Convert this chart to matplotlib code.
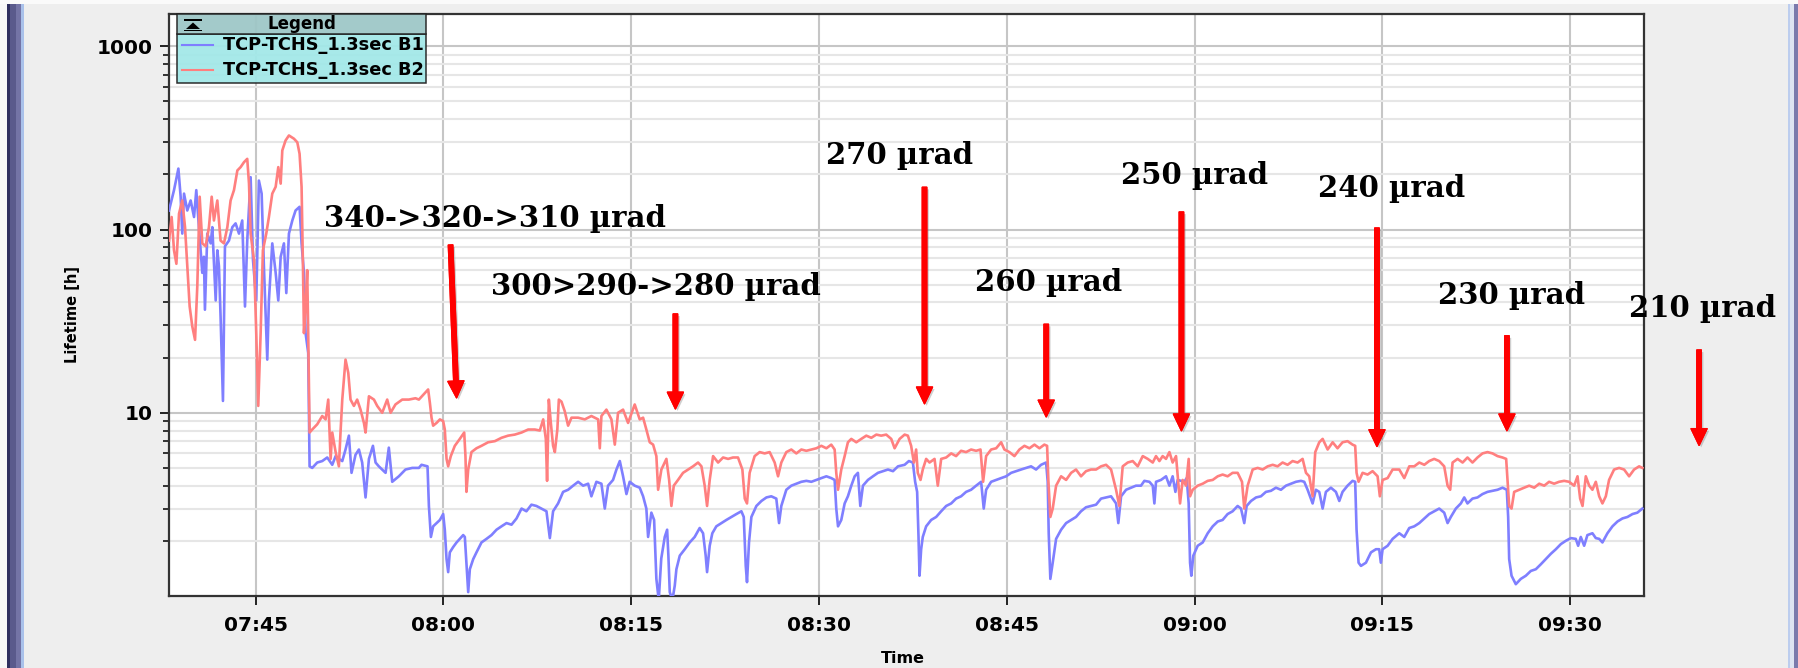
"""Beam lifetime vs. time for the TCP-TCHS collimator angle scan, B1 and B2."""

import matplotlib
matplotlib.use("Agg")
import matplotlib.pyplot as plt
import matplotlib.patheffects as pe
from matplotlib.lines import Line2D
from matplotlib.patches import Rectangle, Polygon
from matplotlib.ticker import FixedLocator, FuncFormatter, LogLocator, NullFormatter

W, H = 1798, 668

BLUE = "#7f7fff"
RED = "#ff7f7f"
ARROW_RED = "#ff0000"
PANEL = "#eeeeee"

series_names = ["TCP-TCHS_1.3sec B1", "TCP-TCHS_1.3sec B2"]

# time in minutes after midnight, lifetime in hours
b1_time = [
    458.08, 458.48, 458.83, 459.01, 459.14, 459.28, 459.54, 459.81, 460.08, 460.26,
    460.47, 460.74, 460.87, 460.95, 461.14, 461.41, 461.54, 461.81, 461.94, 462.07,
    462.20, 462.39, 462.55, 462.87, 463.14, 463.40, 463.67, 463.93, 464.15, 464.33,
    464.60, 464.79, 465.05, 465.26, 465.48, 465.66, 465.93, 466.06, 466.33, 466.60,
    466.81, 467.00, 467.26, 467.45, 467.66, 467.93, 468.19, 468.51, 468.67, 468.86,
    468.99, 469.20, 469.31, 469.52, 469.92, 470.32, 470.72, 471.12, 471.39, 471.65,
    471.92, 472.18, 472.45, 472.66, 472.98, 473.25, 473.51, 473.78, 474.05, 474.37,
    474.58, 474.84, 475.11, 475.38, 475.64, 475.91, 476.44, 476.97, 477.51, 478.04,
    478.25, 478.73, 478.84, 479.00, 479.18, 479.45, 479.72, 479.98, 480.11, 480.25,
    480.38, 480.51, 480.78, 481.05, 481.31, 481.58, 481.71, 481.84, 481.98, 482.11,
    482.38, 482.64, 483.04, 483.44, 483.84, 484.24, 484.64, 485.04, 485.44, 485.84,
    486.24, 486.63, 487.03, 487.43, 487.83, 488.23, 488.50, 488.76, 489.16, 489.56,
    489.96, 490.36, 490.76, 491.16, 491.56, 491.82, 492.22, 492.62, 492.89, 493.15,
    493.55, 493.82, 494.09, 494.35, 494.62, 494.88, 495.28, 495.68, 495.95, 496.21,
    496.35, 496.61, 496.83, 497.01, 497.20, 497.40, 497.68, 497.87, 497.97, 498.08,
    498.29, 498.48, 498.61, 498.88, 499.28, 499.67, 500.07, 500.47, 500.74, 500.95,
    501.06, 501.27, 501.48, 501.80, 502.20, 502.60, 503.00, 503.40, 503.80, 503.99,
    504.15, 504.25, 504.41, 504.60, 505.00, 505.40, 505.80, 506.19, 506.59, 506.81,
    506.99, 507.39, 507.79, 508.19, 508.59, 508.99, 509.39, 509.79, 510.19, 510.59,
    510.98, 511.25, 511.38, 511.52, 511.78, 512.05, 512.31, 512.58, 512.85, 513.11,
    513.30, 513.51, 513.91, 514.31, 514.71, 515.11, 515.51, 515.91, 516.31, 516.84,
    517.18, 517.50, 517.68, 517.84, 517.95, 518.03, 518.16, 518.29, 518.56, 518.96,
    519.36, 519.76, 520.16, 520.56, 520.95, 521.35, 521.75, 522.15, 522.55, 522.95,
    523.16, 523.35, 523.75, 524.15, 524.55, 524.95, 525.35, 525.74, 526.14, 526.54,
    526.94, 527.34, 527.74, 528.14, 528.27, 528.35, 528.48, 528.67, 528.94, 529.34,
    529.74, 530.14, 530.53, 530.93, 531.33, 531.73, 532.13, 532.53, 532.93, 533.33,
    533.73, 533.91, 534.13, 534.53, 534.92, 535.32, 535.72, 535.99, 536.39, 536.66,
    536.79, 536.92, 537.32, 537.72, 537.99, 538.25, 538.47, 538.65, 538.92, 539.18,
    539.37, 539.53, 539.64, 539.74, 539.90, 540.25, 540.65, 541.05, 541.45, 541.85,
    542.24, 542.64, 543.04, 543.44, 543.71, 543.97, 544.16, 544.51, 544.91, 545.30,
    545.70, 546.10, 546.50, 546.90, 547.30, 547.70, 548.10, 548.50, 548.76, 549.03,
    549.43, 549.69, 549.96, 550.23, 550.49, 550.89, 551.29, 551.56, 551.82, 552.22,
    552.62, 552.83, 552.94, 553.10, 553.29, 553.69, 554.09, 554.49, 554.75, 554.88,
    555.02, 555.42, 555.82, 556.35, 556.75, 557.15, 557.55, 557.95, 558.35, 558.74,
    559.14, 559.54, 559.94, 560.21, 560.47, 560.87, 561.27, 561.54, 561.80, 562.20,
    562.60, 563.00, 563.40, 563.80, 564.20, 564.60, 564.94, 565.05, 565.13, 565.32,
    565.66, 566.06, 566.46, 566.86, 567.26, 567.66, 568.06, 568.46, 568.86, 569.26,
    569.65, 570.05, 570.45, 570.64, 570.85, 571.12, 571.38, 571.78, 572.05, 572.32,
    572.58, 572.98, 573.38, 573.78, 574.18, 574.58, 574.98, 575.37, 575.77,
]
b1_life = [
    127, 164, 215, 151, 95, 157, 127, 144, 117, 164,
    103, 58, 71, 36.5, 95, 84, 103, 41, 77, 63,
    33.5, 11.6, 81, 87, 103, 108, 95, 112, 38, 87,
    193, 68, 41, 185, 157, 63, 19.5, 41, 84, 58,
    41, 71, 84, 45, 95, 112, 127, 133, 84, 58,
    27.2, 21.2, 5.1, 5.0, 5.35, 5.45, 5.7, 5.2, 5.8, 5.6,
    5.45, 6.3, 7.5, 4.7, 5.9, 6.3, 5.35, 3.45, 5.6, 6.6,
    5.35, 5.1, 4.9, 4.7, 6.45, 4.2, 4.5, 4.9, 5.0, 5.0,
    5.2, 5.1, 3.1, 2.1, 2.4, 2.5, 2.6, 2.8, 2.3, 1.59,
    1.35, 1.73, 1.85, 1.96, 2.05, 2.15, 2.1, 1.52, 1.05, 1.40,
    1.59, 1.73, 1.96, 2.05, 2.15, 2.3, 2.4, 2.5, 2.45, 2.65,
    3.0, 2.9, 3.15, 3.1, 3.0, 2.9, 2.07, 2.9, 3.2, 3.7,
    3.8, 4.0, 4.2, 4.0, 4.1, 3.5, 4.2, 4.1, 3.0, 4.0,
    4.3, 4.9, 5.45, 4.5, 3.6, 4.2, 4.0, 3.9, 3.5, 3.0,
    2.1, 2.85, 2.6, 1.24, 0.95, 1.6, 2.1, 2.3, 1.66, 1.05,
    0.95, 1.14, 1.40, 1.66, 1.8, 1.96, 2.1, 2.35, 2.2, 1.66,
    1.35, 1.88, 2.2, 2.4, 2.5, 2.6, 2.7, 2.8, 2.9, 2.7,
    1.46, 1.19, 1.96, 2.7, 3.1, 3.3, 3.45, 3.5, 3.4, 2.5,
    3.1, 3.8, 4.0, 4.1, 4.2, 4.25, 4.2, 4.3, 4.4, 4.5,
    4.4, 4.3, 3.0, 2.4, 2.6, 3.2, 3.5, 4.0, 4.5, 4.7,
    3.1, 4.0, 4.3, 4.5, 4.7, 4.8, 4.9, 4.8, 5.1, 5.2,
    5.45, 5.35, 4.2, 3.7, 2.1, 1.29, 1.8, 2.1, 2.4, 2.6,
    2.7, 2.9, 3.1, 3.2, 3.4, 3.5, 3.7, 3.8, 4.0, 4.2,
    3.0, 3.8, 4.2, 4.3, 4.4, 4.5, 4.7, 4.8, 4.9, 5.0,
    5.1, 4.9, 5.2, 5.35, 4.2, 2.2, 1.24, 1.52, 2.05, 2.3,
    2.5, 2.6, 2.7, 2.9, 3.05, 3.1, 3.15, 3.4, 3.45, 3.5,
    3.2, 2.5, 3.5, 3.8, 3.9, 4.0, 4.0, 4.25, 4.2, 4.0,
    3.2, 4.2, 4.3, 4.5, 4.0, 4.5, 3.7, 4.3, 4.25, 4.2,
    4.4, 3.2, 1.52, 1.29, 1.66, 1.88, 1.96, 2.2, 2.4, 2.55,
    2.6, 2.8, 2.9, 3.1, 3.0, 2.5, 3.1, 3.3, 3.45, 3.5,
    3.7, 3.75, 3.9, 3.8, 4.0, 4.1, 4.2, 4.25, 4.2, 3.8,
    3.2, 3.8, 3.7, 3.0, 3.7, 3.9, 3.7, 3.3, 3.7, 4.0,
    4.25, 4.2, 2.3, 1.52, 1.46, 1.52, 1.73, 1.8, 1.8, 1.52,
    1.8, 1.88, 2.05, 2.2, 2.1, 2.35, 2.4, 2.5, 2.65, 2.8,
    2.9, 3.0, 2.85, 2.5, 2.7, 3.0, 3.2, 3.45, 3.2, 3.4,
    3.45, 3.6, 3.7, 3.75, 3.8, 3.9, 3.8, 2.7, 1.59, 1.29,
    1.16, 1.24, 1.29, 1.37, 1.40, 1.49, 1.59, 1.7, 1.8, 1.92,
    2.0, 2.07, 2.05, 1.88, 2.1, 1.88, 2.15, 2.2, 2.07, 2.05,
    1.96, 2.2, 2.4, 2.55, 2.65, 2.7, 2.8, 2.85, 3.0,
]

b2_time = [
    458.08, 458.29, 458.48, 458.67, 458.88, 459.14, 459.36, 459.54, 459.73, 459.94,
    460.16, 460.34, 460.53, 460.74, 461.01, 461.27, 461.49, 461.67, 461.94, 462.20,
    462.47, 462.74, 463.00, 463.27, 463.54, 463.80, 464.07, 464.33, 464.47, 464.60,
    464.87, 465.05, 465.21, 465.40, 465.58, 465.85, 466.06, 466.33, 466.60, 466.81,
    467.00, 467.13, 467.39, 467.66, 468.06, 468.33, 468.51, 468.67, 468.78, 468.86,
    468.99, 469.12, 469.20, 469.31, 469.52, 469.92, 470.32, 470.59, 470.80, 470.99,
    471.12, 471.39, 471.65, 471.78, 471.92, 472.05, 472.18, 472.40, 472.58, 472.85,
    473.11, 473.38, 473.65, 473.78, 474.05, 474.45, 474.71, 475.11, 475.51, 475.78,
    476.17, 476.71, 477.24, 477.77, 478.04, 478.52, 478.78, 478.92, 479.05, 479.18,
    479.45, 479.72, 479.98, 480.11, 480.25, 480.38, 480.59, 480.91, 481.31, 481.66,
    481.76, 481.84, 481.98, 482.24, 482.64, 483.04, 483.57, 484.11, 484.64, 485.17,
    485.70, 486.24, 486.77, 487.30, 487.70, 487.97, 488.18, 488.28, 488.42, 488.58,
    488.76, 488.90, 489.10, 489.22, 489.43, 489.69, 489.96, 490.23, 490.76, 491.29,
    491.82, 492.36, 492.49, 492.62, 493.02, 493.42, 493.69, 493.95, 494.35, 494.75,
    495.28, 495.68, 495.95, 496.21, 496.48, 496.75, 497.01, 497.15, 497.41, 497.81,
    498.03, 498.21, 498.40, 498.74, 499.14, 499.54, 499.94, 500.34, 500.61, 500.87,
    501.06, 501.27, 501.54, 501.94, 502.34, 502.74, 503.13, 503.53, 503.88, 504.07,
    504.25, 504.46, 504.86, 505.26, 505.66, 506.06, 506.46, 506.73, 506.99, 507.39,
    507.79, 508.19, 508.59, 508.99, 509.39, 509.79, 510.19, 510.59, 510.98, 511.25,
    511.38, 511.52, 511.78, 512.05, 512.31, 512.58, 512.98, 513.38, 513.78, 514.18,
    514.58, 514.97, 515.37, 515.77, 516.04, 516.44, 516.84, 517.10, 517.36, 517.58,
    517.76, 517.89, 518.11, 518.29, 518.56, 518.83, 519.23, 519.49, 519.76, 520.16,
    520.56, 520.95, 521.35, 521.75, 522.15, 522.55, 522.90, 523.11, 523.35, 523.75,
    524.15, 524.55, 524.81, 525.21, 525.61, 526.01, 526.41, 526.81, 527.21, 527.61,
    528.00, 528.22, 528.32, 528.48, 528.67, 528.94, 529.34, 529.74, 530.14, 530.53,
    530.93, 531.33, 531.73, 532.13, 532.53, 532.93, 533.33, 533.73, 533.99, 534.26,
    534.66, 535.06, 535.46, 535.86, 536.26, 536.66, 536.92, 537.19, 537.45, 537.72,
    537.99, 538.25, 538.52, 538.84, 539.05, 539.32, 539.53, 539.64, 539.85, 540.25,
    540.65, 541.05, 541.45, 541.85, 542.24, 542.64, 543.04, 543.44, 543.79, 543.97,
    544.24, 544.64, 545.04, 545.44, 545.84, 546.24, 546.63, 547.03, 547.43, 547.83,
    548.23, 548.63, 548.90, 549.16, 549.43, 549.64, 549.96, 550.23, 550.63, 551.03,
    551.42, 551.82, 552.22, 552.62, 552.83, 552.94, 553.10, 553.42, 553.82, 554.22,
    554.62, 554.80, 555.02, 555.42, 555.82, 556.35, 556.75, 557.15, 557.55, 557.95,
    558.35, 558.74, 559.14, 559.54, 559.94, 560.21, 560.42, 560.61, 561.01, 561.41,
    561.80, 562.20, 562.60, 563.00, 563.40, 563.80, 564.20, 564.60, 564.89, 565.00,
    565.13, 565.32, 565.53, 565.93, 566.33, 566.73, 567.13, 567.53, 567.93, 568.32,
    568.72, 569.12, 569.52, 569.92, 570.32, 570.59, 570.80, 570.99, 571.25, 571.52,
    571.78, 572.05, 572.32, 572.58, 572.85, 573.11, 573.51, 573.91, 574.31, 574.71,
    575.11, 575.51, 575.77,
]
b2_life = [
    87, 117, 77, 65, 122, 144, 103, 63, 38, 29.6,
    25, 49, 151, 84, 81, 103, 151, 112, 144, 87,
    84, 103, 144, 164, 210, 219, 233, 243, 178, 95,
    68, 27.2, 10.9, 27.2, 77, 95, 117, 157, 171, 219,
    178, 270, 306, 326, 313, 299, 259, 171, 63, 27.2,
    38, 60, 27.2, 7.8, 8.1, 8.65, 9.6, 9.2, 11.8, 5.6,
    7.8, 6.1, 5.1, 7.8, 11.8, 15.2, 19.5, 16.5, 11.8, 10.9,
    11.8, 10.4, 8.8, 7.8, 12.3, 11.8, 10.9, 10.0, 11.8, 10.0,
    11.1, 11.8, 11.8, 12.0, 11.8, 12.8, 13.4, 11.3, 9.4, 8.5,
    8.8, 9.2, 9.0, 8.1, 5.6, 5.1, 5.8, 6.6, 7.2, 7.8,
    5.8, 3.7, 4.9, 6.1, 6.4, 6.6, 6.9, 7.0, 7.3, 7.5,
    7.6, 7.8, 8.1, 8.1, 8.0, 9.2, 7.2, 4.25, 11.8, 8.8,
    6.6, 6.1, 8.1, 11.8, 11.5, 10.2, 8.5, 9.4, 9.4, 9.2,
    9.6, 9.2, 6.4, 9.6, 10.4, 9.2, 6.7, 10.0, 10.4, 8.8,
    11.1, 9.2, 9.4, 8.1, 6.9, 6.7, 5.8, 3.8, 4.9, 5.6,
    4.3, 3.1, 4.0, 4.3, 4.7, 4.9, 5.1, 5.35, 5.1, 4.0,
    3.1, 4.3, 5.8, 5.35, 5.7, 5.6, 5.7, 5.7, 4.9, 3.4,
    3.2, 4.7, 5.8, 6.1, 6.0, 6.1, 5.35, 4.5, 5.35, 6.1,
    6.3, 6.0, 6.3, 6.2, 6.3, 6.4, 6.6, 6.4, 6.7, 6.3,
    4.7, 3.8, 4.9, 5.8, 6.9, 7.2, 6.9, 7.2, 7.5, 7.3,
    7.6, 7.5, 7.6, 7.2, 6.4, 7.2, 7.6, 7.5, 6.6, 5.35,
    6.3, 4.7, 4.3, 4.9, 5.6, 5.35, 5.6, 4.0, 5.6, 5.7,
    6.0, 5.8, 6.2, 6.1, 6.3, 6.2, 6.3, 4.2, 5.8, 6.3,
    6.4, 6.9, 6.3, 6.1, 5.8, 6.3, 6.6, 6.4, 6.7, 6.4,
    6.7, 6.6, 4.3, 2.7, 3.0, 4.0, 4.5, 4.3, 4.7, 4.9,
    4.5, 4.8, 4.9, 4.9, 5.1, 5.2, 4.9, 3.8, 3.1, 5.1,
    5.35, 5.45, 5.1, 5.8, 5.6, 5.35, 5.8, 5.45, 5.8, 5.6,
    6.1, 5.35, 5.8, 3.2, 4.3, 4.0, 5.6, 3.5, 3.8, 4.0,
    4.1, 4.25, 4.3, 4.5, 4.6, 4.5, 4.7, 4.7, 4.2, 3.0,
    4.0, 4.9, 5.0, 4.9, 5.1, 5.2, 5.1, 5.35, 5.2, 5.45,
    5.35, 5.6, 4.7, 4.5, 3.5, 6.1, 6.9, 7.2, 6.3, 6.9,
    6.4, 6.9, 7.0, 6.7, 6.6, 4.7, 4.2, 4.7, 4.6, 4.8,
    4.5, 3.5, 4.3, 4.4, 4.9, 4.9, 4.4, 5.1, 5.1, 5.35,
    5.2, 5.45, 5.6, 5.45, 5.1, 4.0, 3.8, 5.35, 5.6, 5.35,
    5.7, 5.35, 5.7, 6.0, 6.1, 6.0, 5.8, 5.7, 5.6, 4.3,
    3.1, 3.0, 3.7, 3.8, 3.9, 4.0, 3.9, 4.1, 4.0, 4.2,
    4.1, 4.2, 4.25, 4.2, 4.0, 4.5, 3.4, 3.1, 4.5, 4.0,
    3.8, 4.2, 3.5, 3.2, 3.5, 4.3, 4.9, 5.0, 4.9, 4.5,
    4.9, 5.1, 5.0,
]

# collimator angle steps: label anchor (left, baseline) and arrow tail/tip
step_labels = ["340->320->310 µrad", "300>290->280 µrad", "270 µrad", "260 µrad",
               "250 µrad", "240 µrad", "230 µrad", "210 µrad"]
label_time = [470.49, 483.84, 510.58, 522.49, 534.12, 549.88, 559.41, 574.71]
label_life = [103.6, 44.0, 226.6, 46.2, 177.0, 150.3, 39.3, 33.3]
arrow_tail_time = [480.57, 498.53, 518.43, 528.15, 538.95, 554.57, 564.95, 580.30]
arrow_tip_time = [481.05, 498.53, 518.43, 528.15, 538.95, 554.57, 564.95, 580.30]
arrow_tail_life = [82.3, 34.6, 170.0, 30.4, 124.6, 101.9, 26.3, 22.0]
arrow_tip_life = [12.07, 10.5, 11.2, 9.5, 7.98, 6.55, 7.98, 6.64]

time_ticks = [465, 480, 495, 510, 525, 540, 555, 570]


def fx(x):
    return x / W


def fy(y):
    return 1 - y / H


fig = plt.figure(figsize=(W / 100, H / 100), dpi=100, facecolor=PANEL)

# window frame strips
for x0, x1, col in [(0, 7, "#f7f7f7"), (7, 10, "#2f2f5f"), (10, 16, "#5a5a8c"),
                    (16, 21, "#7474a6"), (21, 24, "#a9c1ea"),
                    (1788, 1790, "#bccdee"), (1790, 1794, "#dde4f2"), (1794, 1798, "#7a7aac")]:
    fig.add_artist(Rectangle((fx(x0), 0), fx(x1 - x0), 1, transform=fig.transFigure,
                             facecolor=col, edgecolor="none", zorder=0))
fig.add_artist(Rectangle((0, fy(4)), 1, fy(0) - fy(4), transform=fig.transFigure,
                         facecolor="#fafafa", edgecolor="none", zorder=0))

ax = fig.add_axes([fx(169), fy(596), fx(1644 - 169), fy(14) - fy(596)])
ax.set_facecolor("white")

ax.plot(b1_time, b1_life, color=BLUE, lw=1.9, zorder=3)
ax.plot(b2_time, b2_life, color=RED, lw=1.9, zorder=3)

ax.set_yscale("log")
ax.set_xlim(458.08, 575.9)
ax.set_ylim(1, 1500)

ax.xaxis.set_major_locator(FixedLocator(time_ticks))
ax.xaxis.set_major_formatter(FuncFormatter(lambda m, _: f"{int(m // 60):02d}:{int(round(m % 60)):02d}"))
ax.yaxis.set_major_locator(FixedLocator([10, 100, 1000]))
ax.yaxis.set_major_formatter(FuncFormatter(lambda v, _: f"{v:.0f}"))
ax.yaxis.set_minor_locator(LogLocator(base=10, subs=range(2, 10)))
ax.yaxis.set_minor_formatter(NullFormatter())

ax.grid(True, which="major", axis="both", color="#c6c6c6", lw=1.5, zorder=0)
ax.grid(True, which="minor", axis="y", color="#e6e6e6", lw=1.5, zorder=0)
ax.set_axisbelow(True)

ax.tick_params(axis="both", which="major", direction="out", length=6.5, width=1.2,
               colors="black", labelsize=14.5)
ax.tick_params(axis="x", which="major", pad=8)
ax.tick_params(axis="y", which="major", pad=5.5)
ax.tick_params(axis="y", which="minor", direction="out", length=4, width=1.1, colors="black")
ax.tick_params(axis="x", which="minor", length=0)
for lab in ax.get_xticklabels() + ax.get_yticklabels():
    lab.set_fontweight("bold")
for sp in ax.spines.values():
    sp.set_color("#333333")
    sp.set_linewidth(1.6)

ax.set_xlabel("Time", fontsize=11.5, fontweight="bold")
ax.set_ylabel("Lifetime [h]", fontsize=10.5, fontweight="bold")
ax.xaxis.set_label_coords(0.4976, -0.095)
ax.yaxis.set_label_coords(-0.0603, 0.483)

# angle step annotations
shadow = [pe.withSimplePatchShadow(offset=(1.5, -1.5), shadow_rgbFace="#777777", alpha=0.35), pe.Normal()]
for i, txt in enumerate(step_labels):
    ax.text(label_time[i], label_life[i], txt, ha="left", va="baseline",
            fontsize=21, fontweight="bold", family="DejaVu Serif", color="black",
            clip_on=False, zorder=6)
    ax.annotate("", xy=(arrow_tip_time[i], arrow_tip_life[i]),
                xytext=(arrow_tail_time[i], arrow_tail_life[i]),
                arrowprops=dict(arrowstyle="simple,head_length=1.2,head_width=1.15,tail_width=0.32",
                                mutation_scale=10, color=ARROW_RED, shrinkA=0, shrinkB=0,
                                path_effects=shadow),
                annotation_clip=False, zorder=7)

# legend panel with header row
lx0, lx1, ly0, ly1, ly2 = 177, 426, 14, 34, 83
fig.add_artist(Rectangle((fx(lx0), fy(ly2)), fx(lx1 - lx0), fy(ly1) - fy(ly2),
                         transform=fig.transFigure, facecolor="#a3e8e8", edgecolor="#222222",
                         lw=1.1, zorder=5, alpha=0.95))
fig.add_artist(Rectangle((fx(lx0), fy(ly1)), fx(lx1 - lx0), fy(ly0) - fy(ly1),
                         transform=fig.transFigure, facecolor="#9ec7c7", edgecolor="#222222",
                         lw=1.1, zorder=5, alpha=0.95))
fig.text(fx((lx0 + lx1) / 2), fy(24), "Legend", ha="center", va="center",
         fontsize=12, fontweight="bold", zorder=6)
fig.add_artist(Rectangle((fx(184), fy(21)), fx(18), fy(19) - fy(21), transform=fig.transFigure,
                         facecolor="black", edgecolor="none", zorder=6))
fig.add_artist(Polygon([(fx(186), fy(29)), (fx(200), fy(29)), (fx(193), fy(22.5))],
                       closed=True, transform=fig.transFigure, facecolor="black",
                       edgecolor="none", zorder=6))
fig.add_artist(Rectangle((fx(184), fy(31)), fx(18), fy(29.5) - fy(31), transform=fig.transFigure,
                         facecolor="black", edgecolor="none", zorder=6))
for name, col, yy in zip(series_names, [BLUE, RED], [45, 70]):
    fig.add_artist(Line2D([fx(182), fx(213)], [fy(yy), fy(yy)], transform=fig.transFigure,
                          color=col, lw=1.5, zorder=6))
    fig.text(fx(223), fy(yy), name, ha="left", va="center", fontsize=12.8,
             fontweight="bold", zorder=6)

fig.savefig("out.png", dpi=100, facecolor=PANEL)
